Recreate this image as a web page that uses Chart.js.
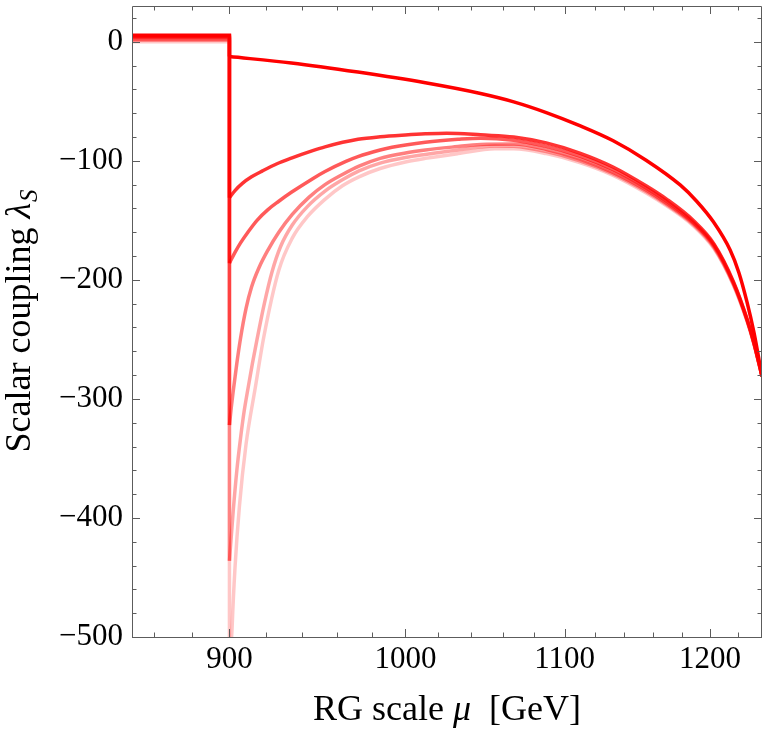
<!DOCTYPE html>
<html><head><meta charset="utf-8">
<script src="https://cdn.jsdelivr.net/npm/chart.js@4.4.1/dist/chart.umd.min.js"></script>
<style>html,body{margin:0;padding:0;background:#fff}#wrap{width:764px;height:730px;position:relative}</style>
</head><body><div id="wrap"><canvas id="c"></canvas></div>
<script>
const xTitle = ['RG scale ', 'μ', '  [GeV]'];
const yTitle = ['Scalar coupling ', 'λ', 'S'];
const xTickValues = [860, 880, 900, 920, 940, 960, 980, 1000, 1020, 1040, 1060, 1080, 1100, 1120, 1140, 1160, 1180, 1200, 1220];
const yTickValues = [-500, -480, -460, -440, -420, -400, -380, -360, -340, -320, -300, -280, -260, -240, -220, -200, -180, -160, -140, -120, -100, -80, -60, -40, -20, 0, 20];
const muMin = 849, muMax = 1238, muStep = 900;
const yMin = -500, yMax = 30;
const before = [5.5, 4.5, 3.5, 2.3, 1.2, 0];
const opacity = [1, 0.8, 0.65, 0.5, 0.35, 0.22];

const mu1 = [900, 934, 972, 1012, 1046, 1067, 1088, 1110, 1132.5, 1155, 1179, 1190.5, 1202.6, 1214.6, 1221, 1227, 1232, 1238];
const lam1 = [-12.5, -17.8, -25.5, -34.5, -43.5, -50.5, -59.5, -70.5, -83.2, -99.5, -120.5, -134, -151.5, -175, -194, -219, -244, -281];

const mu2 = [900, 903, 907, 912, 918, 926, 934, 946, 953, 972, 985, 1000, 1012, 1025, 1032, 1046, 1067, 1088, 1110, 1132, 1155, 1169, 1188, 1203, 1217, 1227, 1232, 1238];
const lam2 = [-131, -125, -119, -113.5, -108.5, -102.5, -97.8, -91.5, -88.3, -82, -79.8, -78.3, -77.4, -76.9, -77, -78.2, -80, -85, -93.5, -105, -121, -132, -150, -170, -201.5, -233, -252.5, -281];

const mu3 = [900, 903, 906, 910, 915, 921, 927, 934, 946, 953, 965, 972, 985, 992, 1012, 1032, 1046, 1067, 1088, 1110, 1132, 1155, 1169, 1188, 1203, 1217, 1227, 1232, 1238];
const lam3 = [-186, -177, -169, -160, -150, -141, -134, -126.5, -115, -109, -100.5, -96.5, -91, -88.7, -84.5, -82, -81, -82.8, -87.8, -96, -107.3, -122.8, -133.8, -151.5, -171, -202.5, -233.5, -253, -281];

const mu4 = [900, 901, 902, 904, 906, 909, 912, 916, 921, 927, 934.5, 944, 953, 963, 972.6, 985, 1000, 1012, 1030, 1046, 1067, 1088, 1110, 1132, 1155, 1169, 1188, 1203, 1217, 1227, 1232, 1238];
const lam4 = [-322, -307, -294, -270, -249, -224, -206, -190, -175, -160, -145, -130.5, -120, -111.5, -104.5, -98, -93.5, -91, -88.3, -86.3, -86, -90.5, -98.5, -109.5, -124.5, -135.5, -152.5, -172, -203, -234, -253, -281];

const mu5 = [900, 902, 904, 906, 908, 910.2, 912.5, 915, 919, 923.3, 928, 934.5, 943, 953, 963, 972.6, 985, 1000, 1012, 1030, 1055, 1067, 1088, 1110, 1132, 1155, 1169, 1188, 1203, 1217, 1227, 1232, 1238];
const lam5 = [-436, -395, -360, -333, -310, -290, -270, -250, -220, -193, -172, -154, -138.5, -125.5, -116, -108.5, -102, -97.3, -94.7, -91.3, -87.5, -87.8, -92.3, -100, -110.8, -125.8, -136.6, -153.5, -173, -204, -234.5, -253.5, -281];

const mu6 = [900, 900.5, 901.5, 903, 905.4, 909, 914.1, 918.7, 927, 934.5, 943, 953.3, 963, 972.6, 985, 1000, 1012, 1032, 1055, 1067, 1088, 1110, 1132, 1155, 1169, 1188, 1203, 1217, 1227, 1232, 1238];
const lam6 = [-640, -540, -490, -442, -390, -338, -290, -248, -192, -165, -147, -132, -121, -113.5, -106.5, -101, -98, -94, -90, -90, -94, -101.5, -112, -127, -137.6, -154.5, -174, -204.5, -235, -254, -281];

const curves = [[mu1, lam1], [mu2, lam2], [mu3, lam3], [mu4, lam4], [mu5, lam5], [mu6, lam6]];

const SERIF = '"Liberation Serif", "Times New Roman", serif';
const LW = 3.5;
const datasets = [];
curves.forEach(([mu, lam], i) => {
  const color = 'rgba(255,0,0,' + opacity[i] + ')';
  datasets.push({
    data: mu.map((m, j) => ({x: m, y: lam[j]})),
    borderColor: color, borderWidth: LW, pointRadius: 0,
    cubicInterpolationMode: 'monotone', fill: false
  });
  datasets.push({
    data: [{x: muMin, y: before[i]}, {x: muStep, y: before[i]}, {x: muStep, y: lam[0]}],
    borderColor: color, borderWidth: LW, pointRadius: 0, tension: 0, fill: false
  });
});

const framePlugin = {
  id: 'frame',
  afterDraw(chart) {
    const {ctx, chartArea: {left, right, top, bottom}, scales: {x, y}} = chart;
    ctx.save();
    ctx.strokeStyle = '#5c5c5c';
    ctx.lineWidth = 1;
    ctx.beginPath();
    ctx.rect(left + 0.5, top + 0.5, right - left - 1, bottom - top);
    for (const v of xTickValues) {
      const p = Math.round(x.getPixelForValue(v)) + 0.5;
      const len = v % 100 === 0 ? 8 : 4.5;
      ctx.moveTo(p, bottom); ctx.lineTo(p, bottom - len);
      ctx.moveTo(p, top); ctx.lineTo(p, top + len);
    }
    for (const v of yTickValues) {
      const p = Math.round(y.getPixelForValue(v)) + 0.5;
      const len = v % 100 === 0 ? 8 : 4.5;
      ctx.moveTo(left, p); ctx.lineTo(left + len, p);
      ctx.moveTo(right, p); ctx.lineTo(right - len, p);
    }
    ctx.stroke();

    // axis titles
    ctx.fillStyle = '#000';
    ctx.textBaseline = 'alphabetic';
    ctx.textAlign = 'left';
    const fN = '36px ' + SERIF, fI = 'italic 36px ' + SERIF, fS = 'italic 25px ' + SERIF;
    ctx.font = fN; const a1 = ctx.measureText(xTitle[0]).width;
    ctx.font = fI; const a2 = ctx.measureText(xTitle[1]).width;
    ctx.font = fN; const a3 = ctx.measureText(xTitle[2]).width;
    let sx = (left + right) / 2 - (a1 + a2 + a3) / 2;
    const by = bottom + 83;
    ctx.font = fN; ctx.fillText(xTitle[0], sx, by); sx += a1;
    ctx.font = fI; ctx.fillText(xTitle[1], sx, by); sx += a2;
    ctx.font = fN; ctx.fillText(xTitle[2], sx, by);

    ctx.font = fN; const b1 = ctx.measureText(yTitle[0]).width;
    ctx.font = fI; const b2 = ctx.measureText(yTitle[1]).width;
    ctx.font = fS; const b3 = ctx.measureText(yTitle[2]).width;
    ctx.save();
    ctx.translate(30, (top + bottom) / 2);
    ctx.rotate(-Math.PI / 2);
    let s = -(b1 + b2 + b3) / 2;
    ctx.font = fN; ctx.fillText(yTitle[0], s, 0); s += b1;
    ctx.font = fI; ctx.fillText(yTitle[1], s, 0); s += b2 + 1;
    ctx.font = fS; ctx.fillText(yTitle[2], s, 7);
    ctx.restore();
    ctx.restore();
  }
};

new Chart(document.getElementById('c'), {
  type: 'line',
  data: {datasets},
  options: {
    responsive: true, maintainAspectRatio: false, animation: false,
    layout: {padding: {top: 6, right: 2, left: 0, bottom: 0}},
    plugins: {legend: {display: false}, tooltip: {enabled: false}},
    scales: {
      x: {
        type: 'logarithmic', position: 'bottom', min: muMin, max: muMax, bounds: 'data',
        grid: {display: false, drawTicks: false}, border: {display: false},
        afterBuildTicks: s => { s.ticks = xTickValues.map(v => ({value: v})); },
        afterFit: s => { s.height = 93; s.paddingLeft = 0; s.paddingRight = 0; },
        ticks: {
          autoSkip: false, maxRotation: 0, minRotation: 0, padding: 4, color: '#000',
          font: {family: SERIF, size: 31},
          callback: v => (v % 100 === 0 ? String(v) : '')
        }
      },
      y: {
        type: 'linear', position: 'left', min: yMin, max: yMax, bounds: 'data',
        grid: {display: false, drawTicks: false}, border: {display: false},
        afterBuildTicks: s => { s.ticks = yTickValues.map(v => ({value: v})); },
        afterFit: s => { s.width = 132; s.paddingTop = 0; s.paddingBottom = 0; },
        ticks: {
          autoSkip: false, padding: 9, color: '#000',
          font: {family: SERIF, size: 31},
          callback: v => (v % 100 === 0 ? (v < 0 ? '\u2212' + (-v) : String(v)) : '')
        }
      }
    }
  },
  plugins: [framePlugin]
});
</script>
</body></html>
